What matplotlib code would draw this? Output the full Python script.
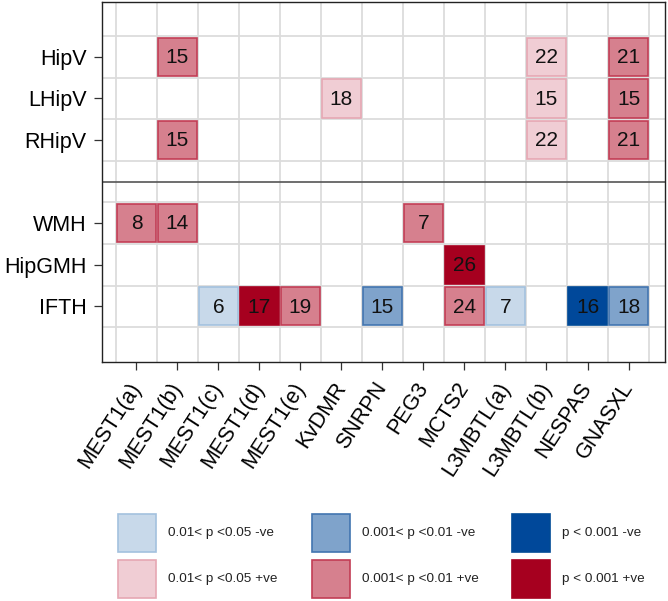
#!/usr/bin/env python

import numpy as np
import matplotlib
matplotlib.use("Agg")
from matplotlib import pyplot as plt
from matplotlib.patches import Rectangle

genes = ["MEST1(a)", "MEST1(b)", "MEST1(c)", "MEST1(d)", "MEST1(e)", "KvDMR",
         "SNRPN", "PEG3", "MCTS2", "L3MBTL(a)", "L3MBTL(b)", "NESPAS", "GNASXL"]
volume_regions = ["HipV", "LHipV", "RHipV"]
other_regions = ["WMH", "HipGMH", "IFTH"]

# number shown in each cell, 0 = nothing drawn
counts = np.array([
    [0, 15, 0, 0, 0, 0, 0, 0, 0, 0, 22, 0, 21],
    [0, 0, 0, 0, 0, 18, 0, 0, 0, 0, 15, 0, 15],
    [0, 15, 0, 0, 0, 0, 0, 0, 0, 0, 22, 0, 21],
    [8, 14, 0, 0, 0, 0, 0, 7, 0, 0, 0, 0, 0],
    [0, 0, 0, 0, 0, 0, 0, 0, 26, 0, 0, 0, 0],
    [0, 0, 6, 17, 19, 0, 15, 0, 24, 7, 0, 16, 18],
])
# 1: 0.01<p<0.05, 2: 0.001<p<0.01, 3: p<0.001; sign gives direction
levels = np.array([
    [0, 2, 0, 0, 0, 0, 0, 0, 0, 0, 1, 0, 2],
    [0, 0, 0, 0, 0, 1, 0, 0, 0, 0, 1, 0, 2],
    [0, 2, 0, 0, 0, 0, 0, 0, 0, 0, 1, 0, 2],
    [2, 2, 0, 0, 0, 0, 0, 2, 0, 0, 0, 0, 0],
    [0, 0, 0, 0, 0, 0, 0, 0, 3, 0, 0, 0, 0],
    [0, 0, -1, 3, 2, 0, -2, 0, 2, -1, 0, -3, -2],
])
legend_levels = [-1, 1, -2, 2, -3, 3]
legend_labels = ["0.01< p <0.05 -ve", "0.01< p <0.05 +ve",
                 "0.001< p <0.01 -ve", "0.001< p <0.01 +ve",
                 "p < 0.001 -ve", "p < 0.001 +ve"]

fills = {-1: "#c8d9ea", -2: "#7fa3cb", -3: "#00489a",
         1: "#f0cdd4", 2: "#d6808e", 3: "#a6001f"}
edges = {-1: "#a3c1de", -2: "#4275b0", -3: "#004a96",
         1: "#e6a7b3", 2: "#c23d55", 3: "#a6001f"}

plt.rcParams["font.family"] = ["Liberation Sans", "DejaVu Sans"]

fig = plt.figure(figsize=(6.68, 6.01), dpi=100)
ax = fig.add_axes([102/668, 1 - 362/601, 563/668, 360/601])

regions = volume_regions + other_regions
# leave one empty row between the two groups
ypos = [i + (1 if i >= len(volume_regions) else 0) for i in range(len(regions))]
sep = len(volume_regions)

for r in range(len(regions)):
    for c in range(len(genes)):
        lev = levels[r, c]
        if lev == 0:
            continue
        y = ypos[r]
        ax.add_patch(Rectangle((c - 0.47, y - 0.46), 0.94, 0.92,
                               facecolor=fills[lev], edgecolor=edges[lev],
                               linewidth=1.2, zorder=3))
        ax.text(c, y + 0.02, str(counts[r, c]), ha="center", va="center",
                fontsize=15, color="#111111", zorder=4)

for x in np.arange(-0.5, len(genes) + 0.5):
    ax.axvline(x, color="#dcdcdc", lw=1.3, zorder=1)
for y in np.arange(-0.5, ypos[-1] + 1):
    ax.axhline(y, color="#dcdcdc", lw=1.3, zorder=1)
ax.axhline(sep, color="#555555", lw=1.2, zorder=2)

ax.set_xlim(-0.84, len(genes) - 0.5 + 0.39)
ax.set_ylim(ypos[-1] + 0.5 + 0.84, -1.32)
ax.set_xticks(range(len(genes)))
ax.set_xticklabels(genes, rotation=57, ha="right", va="center",
                   rotation_mode="anchor", fontsize=15.5)
ax.set_yticks(ypos)
ax.set_yticklabels(regions, fontsize=15.5)
ax.tick_params(axis="both", length=6, width=0.9, color="#333333", pad=5)
ax.tick_params(axis="x", pad=10)
for s in ax.spines.values():
    s.set_color("#222222")
    s.set_linewidth(1.0)

# legend, drawn in pixel space below the grid
lax = fig.add_axes([0, 0, 1, 1], facecolor="none")
lax.set_xlim(0, 668)
lax.set_ylim(601, 0)
lax.axis("off")
col_x = [118, 312, 512]
row_y = [533, 579]
for i, (lev, lab) in enumerate(zip(legend_levels, legend_labels)):
    x0 = col_x[i // 2]
    y0 = row_y[i % 2]
    lax.add_patch(Rectangle((x0, y0 - 19), 38, 38, facecolor=fills[lev],
                            edgecolor=edges[lev], linewidth=1.2))
    lax.text(x0 + 50, y0, lab, ha="left", va="center", fontsize=9.7,
             color="#222222")

plt.savefig("out.png", dpi=100)
